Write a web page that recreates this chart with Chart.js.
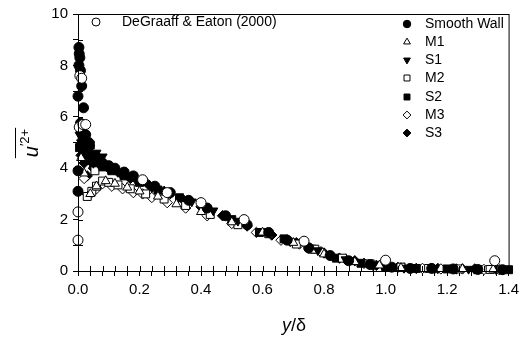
<!DOCTYPE html>
<html lang="en">
<head>
  <meta charset="UTF-8">
  <title>u'2+ profiles</title>
  <script src="https://cdn.jsdelivr.net/npm/chart.js"></script>
  <style>
    html, body { margin: 0; padding: 0; background: #fff; }
    #wrap { width: 524px; height: 341px; }
  </style>
</head>
<body>
  <div id="wrap"><canvas id="chart" width="524" height="341"></canvas></div>
  <script>
    // series data: [y/delta, u'2+]
    const deGraaff = [[0.0,1.2],[0.0,2.3],[0.004,5.6],[0.006,7.6],[0.012,7.5],[0.016,5.7],[0.025,5.7],
      [0.21,3.55],[0.29,3.05],[0.40,2.66],[0.54,2.0],[0.735,1.16],[1.0,0.42],[1.355,0.4]];
    const smoothWall = [[0.003,8.7],[0.004,8.45],[0.006,8.3],[0.003,8.0],[0.008,7.8],[0.012,7.2],[0.0,6.8],
      [0.018,6.35],[0.008,5.75],[0.012,5.4],[0.016,5.1],[0.02,4.85],[0.01,4.9],[0.025,5.3],[0.035,5.0],
      [0.03,4.6],[0.045,4.45],[0.06,4.35],[0.08,4.2],[0.1,4.1],[0.12,4.0],[0.15,3.85],[0.18,3.7],[0.21,3.5],
      [0.25,3.3],[0.3,3.05],[0.36,2.75],[0.42,2.45],[0.48,2.15],[0.55,1.8],[0.62,1.5],[0.68,1.2],[0.75,0.9],
      [0.82,0.6],[0.88,0.4],[0.95,0.25],[1.02,0.15],[1.08,0.1],[1.15,0.1],[1.22,0.08],[1.3,0.06],[1.38,0.05],
      [0.0,3.9],[0.0,3.1]];
    const m1 = [[0.01,4.4],[0.02,3.8],[0.04,3.0],[0.06,3.3],[0.09,3.5],[0.12,3.4],[0.16,3.25],[0.2,3.1],
      [0.26,2.9],[0.32,2.6],[0.4,2.3],[0.5,1.9],[0.6,1.5],[0.7,1.1],[0.8,0.65],[0.9,0.35],[0.98,0.22],
      [1.05,0.12],[1.15,0.1],[1.25,0.08],[1.35,0.06]];
    const s1 = [[0.005,5.3],[0.01,5.0],[0.02,4.6],[0.03,4.4],[0.04,4.8],[0.05,4.2],[0.06,4.6],[0.07,4.1],
      [0.08,4.45],[0.1,3.95],[0.14,3.75],[0.19,3.5],[0.24,3.25],[0.3,3.0],[0.37,2.7],[0.44,2.35],[0.52,1.95],
      [0.6,1.55],[0.69,1.15],[0.78,0.8],[0.87,0.45],[0.96,0.2],[1.06,0.12],[1.16,0.1],[1.27,0.08],[1.38,0.05]];
    const m2 = [[0.03,2.9],[0.045,3.1],[0.06,3.3],[0.08,3.5],[0.055,3.9],[0.1,3.45],[0.13,3.35],[0.17,3.2],
      [0.22,3.0],[0.28,2.8],[0.35,2.55],[0.43,2.2],[0.52,1.8],[0.62,1.45],[0.71,1.05],[0.77,0.85],[0.86,0.5],
      [0.95,0.28],[1.05,0.15],[1.14,0.1],[1.24,0.08],[1.34,0.06]];
    const s2 = [[0.005,4.8],[0.015,4.5],[0.02,5.2],[0.03,4.3],[0.04,4.9],[0.05,4.2],[0.08,4.05],[0.11,3.9],
      [0.15,3.7],[0.2,3.45],[0.26,3.15],[0.33,2.85],[0.41,2.45],[0.5,2.0],[0.59,1.5],[0.67,1.25],[0.76,0.85],
      [0.84,0.5],[0.92,0.3],[1.0,0.17],[1.1,0.1],[1.2,0.08],[1.3,0.06],[1.4,0.05]];
    const m3 = [[0.02,3.6],[0.04,3.0],[0.06,3.2],[0.08,3.4],[0.11,3.3],[0.145,3.2],[0.18,3.05],[0.21,3.0],
      [0.24,2.86],[0.29,2.66],[0.35,2.45],[0.42,2.15],[0.5,1.85],[0.58,1.5],[0.66,1.2],[0.72,1.05],[0.79,0.75],
      [0.87,0.45],[0.93,0.3],[1.0,0.15],[1.06,0.12],[1.12,0.1],[1.18,0.08],[1.25,0.08],[1.32,0.06],[1.37,0.05]];
    const s3 = [[0.01,4.5],[0.02,4.2],[0.03,3.7],[0.04,4.6],[0.05,4.0],[0.06,4.5],[0.07,4.2],[0.1,4.0],
      [0.13,3.85],[0.17,3.6],[0.23,3.35],[0.28,3.1],[0.34,2.8],[0.4,2.5],[0.47,2.15],[0.55,1.75],[0.63,1.4],
      [0.71,1.1],[0.8,0.7],[0.85,0.5],[0.9,0.4],[0.97,0.22],[1.04,0.14],[1.1,0.1],[1.17,0.1],[1.23,0.08],
      [1.29,0.08],[1.36,0.06]];

    const xMin = 0, xMax = 1.4, xStep = 0.04;
    const yMin = 0, yMax = 10, yStep = 1;

    const FONT = 'Arial, "Liberation Sans", sans-serif';

    function pts(arr) { return arr.map(p => ({ x: p[0], y: p[1] })); }

    // label, data, style, filled, rotation
    const series = [
      ['DeGraaff & Eaton (2000)', deGraaff, 'circle', false, 0],
      ['Smooth Wall', smoothWall, 'circle', true, 0],
      ['M1', m1, 'triangle', false, 0],
      ['S1', s1, 'triangle', true, 180],
      ['M2', m2, 'rect', false, 0],
      ['S2', s2, 'rect', true, 0],
      ['M3', m3, 'rectRot', false, 0],
      ['S3', s3, 'rectRot', true, 0]
    ];

    function sizeFor(style) {
      if (style === 'rect') return 5.6;
      if (style === 'triangle') return 5.2;
      if (style === 'rectRot') return 5.2;
      return 5;
    }

    const datasets = series.map(s => ({
      label: s[0],
      data: pts(s[1]),
      pointStyle: s[2],
      rotation: s[4],
      pointRadius: sizeFor(s[2]),
      backgroundColor: s[3] ? '#000' : '#fff',
      borderColor: '#000',
      borderWidth: 1,
      showLine: false,
      clip: false
    }));

    const decorPlugin = {
      id: 'decor',
      afterDraw(chart) {
        const ctx = chart.ctx;
        const a = chart.chartArea;
        const xs = chart.scales.x, ys = chart.scales.y;
        ctx.save();
        ctx.strokeStyle = '#000';
        ctx.lineWidth = 1;
        ctx.strokeRect(a.left + 0.5, a.top + 0.5, a.right - a.left, a.bottom - a.top);
        // inner halves of the crossing tick marks
        ctx.beginPath();
        xs.ticks.forEach(t => {
          const px = Math.round(xs.getPixelForValue(t.value)) + 0.5;
          ctx.moveTo(px, a.bottom); ctx.lineTo(px, a.bottom - 5);
        });
        ys.ticks.forEach(t => {
          const py = Math.round(ys.getPixelForValue(t.value)) + 0.5;
          ctx.moveTo(a.left, py); ctx.lineTo(a.left + 5, py);
        });
        ctx.stroke();

        // legend
        ctx.font = '14px ' + FONT;
        ctx.textBaseline = 'middle';
        ctx.textAlign = 'left';
        const first = datasets[0];
        ctx.fillStyle = '#fff';
        Chart.helpers.drawPoint(ctx, { pointStyle: 'circle', radius: 4, borderWidth: 1 }, 96, 22);
        ctx.fillStyle = '#000';
        ctx.fillText(first.label, 122, 22);
        const rowY = [24, 42, 60, 78, 97, 115, 133];
        datasets.slice(1).forEach((d, i) => {
          ctx.fillStyle = d.backgroundColor;
          ctx.strokeStyle = '#000';
          ctx.lineWidth = 1;
          Chart.helpers.drawPoint(ctx, { pointStyle: d.pointStyle, rotation: d.rotation, radius: d.pointRadius * 0.75, borderWidth: 1 }, 407, rowY[i]);
          ctx.fillStyle = '#000';
          ctx.fillText(d.label, 425, rowY[i]);
        });

        // x title: y/δ
        ctx.textBaseline = 'alphabetic';
        ctx.font = 'italic 18px ' + FONT;
        const yW = ctx.measureText('y').width;
        ctx.font = '18px ' + FONT;
        const restW = ctx.measureText('/δ').width;
        let x0 = 294 - (yW + restW) / 2;
        ctx.font = 'italic 18px ' + FONT;
        ctx.fillText('y', x0, 331);
        ctx.font = '18px ' + FONT;
        ctx.fillText('/δ', x0 + yW, 331);

        // y title: overline u'2+
        ctx.translate(33, 143);
        ctx.rotate(-Math.PI / 2);
        ctx.font = 'italic 20px ' + FONT;
        const uW = ctx.measureText('u').width;
        ctx.font = '13px ' + FONT;
        const supW = ctx.measureText('\u20322+').width;
        const tw = uW + supW;
        const sx = -tw / 2;
        ctx.font = 'italic 20px ' + FONT;
        ctx.fillText('u', sx, 5);
        ctx.font = '13px ' + FONT;
        ctx.fillText('\u20322+', sx + uW, -4);
        ctx.beginPath();
        ctx.moveTo(sx - 1, -17.5);
        ctx.lineTo(sx + tw + 1, -17.5);
        ctx.stroke();
        ctx.restore();
      }
    };

    new Chart(document.getElementById('chart').getContext('2d'), {
      type: 'scatter',
      data: { datasets: datasets },
      options: {
        responsive: false,
        animation: false,
        layout: { padding: { top: 12, right: 12, left: 0, bottom: 0 } },
        plugins: {
          legend: { display: false },
          tooltip: { enabled: false }
        },
        scales: {
          x: {
            type: 'linear',
            min: xMin,
            max: xMax,
            afterFit(scale) { scale.height = 70; },
            border: { color: '#000', width: 1 },
            grid: { drawOnChartArea: false, color: '#000', tickLength: 5, tickWidth: 1 },
            ticks: {
              stepSize: xStep,
              autoSkip: false,
              maxRotation: 0,
              color: '#000',
              font: { family: FONT, size: 15 },
              padding: 5,
              callback: function(value) {
                const k = Math.round(value * 100);
                return k % 20 === 0 ? (k / 100).toFixed(1) : '';
              }
            }
          },
          y: {
            type: 'linear',
            min: yMin,
            max: yMax,
            afterFit(scale) { scale.width = 78; },
            border: { color: '#000', width: 1 },
            grid: { drawOnChartArea: false, color: '#000', tickLength: 5, tickWidth: 1 },
            ticks: {
              stepSize: yStep,
              autoSkip: false,
              color: '#000',
              font: { family: FONT, size: 15 },
              padding: 5,
              callback: function(value) {
                return value % 2 === 0 ? String(value) : '';
              }
            }
          }
        }
      },
      plugins: [decorPlugin]
    });
  </script>
</body>
</html>
